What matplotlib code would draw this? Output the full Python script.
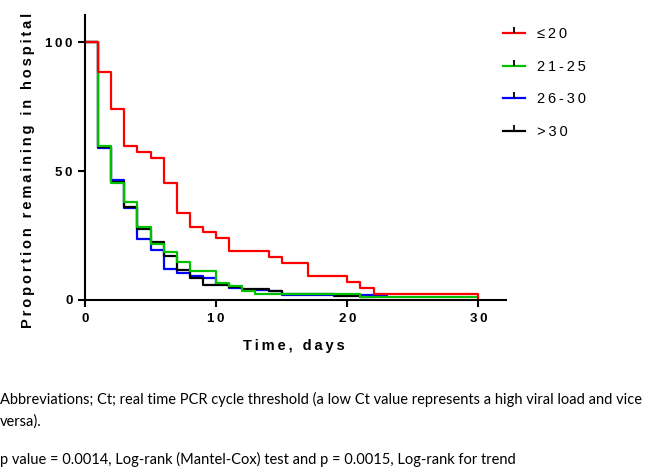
import matplotlib
matplotlib.use('Agg')
import matplotlib.pyplot as plt
from matplotlib.lines import Line2D

### Data (Kaplan-Meier style, % remaining in hospital)
red_days = [0, 1, 2, 3, 4, 5, 6, 7, 8, 9, 10, 11, 14, 15, 17, 20, 21, 22, 30]
red_vals = [100, 88.5, 74, 59.7, 57.2, 54.9, 45.5, 33.6, 28.4, 26.2, 23.9, 19.1, 16.5, 14.2, 9.3, 7.1, 4.5, 2.3, 0]

green_days = [0, 1, 2, 3, 4, 5, 6, 7, 8, 10, 11, 12, 13, 21, 30]
green_vals = [100, 59.8, 45.2, 37.9, 28.4, 21.6, 18.6, 14.8, 11.3, 6.7, 5.6, 3.5, 2.3, 1.0, 1.0]

blue_days = [0, 1, 2, 3, 4, 5, 6, 7, 8, 9, 10, 11, 12, 14, 15, 21, 23]
blue_vals = [100, 58.8, 46.5, 35.5, 23.5, 19.4, 12.0, 10.6, 9.3, 8.4, 6.2, 4.5, 3.9, 3.5, 2.0, 1.8, 1.8]

black_days = [0, 1, 2, 3, 4, 5, 6, 7, 8, 9, 11, 12, 14, 15, 19, 21, 22]
black_vals = [100, 59.2, 45.9, 36.2, 27.6, 22.6, 17.0, 11.6, 8.4, 5.8, 5.0, 4.4, 3.6, 2.3, 1.4, 1.2, 1.2]

group_labels = ['≤20', '21-25', '26-30', '>30']
xticks = [0, 10, 20, 30]
yticks = [0, 50, 100]

note1 = 'Abbreviations; Ct; real time PCR cycle threshold (a low Ct value represents a high viral load and vice'
note2 = 'versa).'
note3 = 'p value = 0.0014, Log-rank (Mantel-Cox) test and p = 0.0015, Log-rank for trend'

BOLD = ['Liberation Sans', 'DejaVu Sans']
NOTE = ['Lato', 'DejaVu Sans']

def spaced(s):
    # GraphPad-style letter spacing
    return '\u2009'.join(s)

fig = plt.figure(figsize=(6.45, 4.68), dpi=100)
ax = fig.add_axes([85/645, 168/468, 421/645, 285/468])

ax.step(blue_days, blue_vals, where='post', color='#0000ff', lw=1.6)
ax.step(black_days, black_vals, where='post', color='black', lw=1.6)
ax.step(green_days, green_vals, where='post', color='#00c000', lw=1.6)
ax.step(red_days, red_vals, where='post', color='#ff0000', lw=1.6)

ax.set_xlim(0, 32.1)
ax.set_ylim(0, 110.5)
for s in ['top', 'right']:
    ax.spines[s].set_visible(False)
for s in ['left', 'bottom']:
    ax.spines[s].set_linewidth(1.5)
ax.set_xticks(xticks)
ax.set_yticks(yticks)
ax.set_xticklabels([spaced(str(t)) for t in xticks], family=BOLD, fontweight='bold', fontsize=9.5)
ax.set_yticklabels([spaced(str(t)) for t in yticks], family=BOLD, fontweight='bold', fontsize=9.5)
ax.tick_params(direction='out', length=5, width=1.5, pad=4)

fig.text(294/645, 1 - 346/468, spaced('Time, days'), family=BOLD, fontweight='bold',
         fontsize=10.5, ha='center', va='center')
fig.text(28/645, 1 - 328/468, spaced('Proportion remaining in hospital'), family=BOLD,
         fontweight='bold', fontsize=10.5, rotation=90, ha='center', va='bottom')

# legend
colors = ['#ff0000', '#00c000', '#0000ff', 'black']
handles = [Line2D([], [], color=c, lw=1.6, marker=2, markersize=4,
                  markeredgecolor='black', markeredgewidth=1.3) for c in colors]
fig.legend(handles, [spaced(l) for l in group_labels], loc='upper left',
           bbox_to_anchor=(490/645, 1 - 14/468), frameon=False, handlelength=1.5,
           handletextpad=0.8, labelspacing=1.28,
           prop={'family': BOLD, 'size': 10.5})

# footnotes
fig.text(0, 1 - 399/468, note1, family=NOTE, fontsize=10.5, va='center', ha='left')
fig.text(0, 1 - 422/468, note2, family=NOTE, fontsize=10.5, va='center', ha='left')
fig.text(0, 1 - 459/468, note3, family=NOTE, fontsize=10.5, va='center', ha='left')

fig.savefig('out.png', dpi=100)
